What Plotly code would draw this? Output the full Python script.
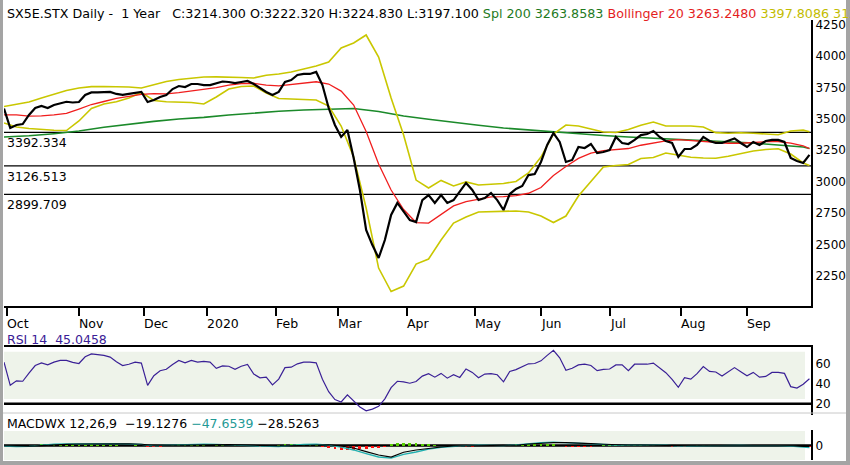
import pandas as pd
import plotly.graph_objects as go

# ---------------- data ----------------
HOLIDAYS = ["2019-12-25", "2019-12-26", "2020-01-01"]
trading_days = pd.bdate_range("2019-09-30", "2020-09-29", freq="C", holidays=HOLIDAYS)

# close, every second session
close = [3582, 3427, 3451, 3459, 3531, 3586, 3602, 3586, 3610, 3626,
         3636, 3630, 3634, 3690, 3710, 3710, 3714, 3714, 3698, 3690,
         3698, 3706, 3714, 3634, 3650, 3674, 3690, 3737, 3761, 3753,
         3777, 3777, 3769, 3769, 3785, 3797, 3793, 3785, 3793, 3801,
         3777, 3745, 3714, 3690, 3714, 3793, 3809, 3849, 3857, 3857,
         3873, 3769, 3586, 3451, 3356, 3411, 3189, 2934, 2616, 2496,
         2393, 2536, 2735, 2831, 2759, 2695, 2679, 2854, 2894, 2831,
         2894, 2831, 2854, 2918, 2990, 2934, 2854, 2870, 2910, 2854,
         2775, 2902, 2942, 2966, 3053, 3061, 3157, 3292, 3387, 3316,
         3157, 3173, 3276, 3268, 3300, 3228, 3236, 3252, 3356, 3308,
         3300, 3332, 3371, 3379, 3403, 3356, 3324, 3308, 3197, 3260,
         3260, 3292, 3356, 3324, 3308, 3308, 3324, 3344, 3308, 3276,
         3316, 3292, 3324, 3332, 3332, 3316, 3189, 3165, 3149, 3214]

rsi14 = [61.7, 38.4, 42.9, 42.5, 50.7, 58.3, 61.0, 59.0, 61.7, 63.4,
         63.4, 61.4, 60.3, 67.1, 69.9, 69.2, 68.5, 66.8, 62.0, 58.3,
         59.6, 61.7, 60.7, 38.4, 48.0, 53.1, 54.5, 59.3, 63.4, 61.0,
         63.4, 61.7, 62.4, 61.7, 55.5, 57.9, 57.6, 54.5, 57.6, 59.3,
         49.7, 46.0, 46.6, 38.8, 44.6, 56.2, 56.6, 60.0, 61.7, 61.7,
         61.0, 44.6, 32.0, 24.1, 21.7, 28.9, 22.4, 16.6, 12.8, 14.5,
         17.3, 24.8, 36.1, 42.5, 41.9, 40.5, 42.2, 47.7, 50.1, 46.6,
         50.4, 45.6, 49.0, 46.3, 54.8, 51.4, 46.0, 49.7, 50.1, 49.0,
         41.9, 52.4, 54.2, 56.9, 60.0, 60.3, 63.0, 68.5, 73.6, 66.1,
         53.5, 55.5, 58.9, 59.6, 58.3, 53.1, 54.5, 54.8, 58.9, 58.9,
         53.1, 59.6, 59.6, 59.6, 60.7, 55.5, 51.1, 44.3, 36.4, 46.0,
         44.6, 50.1, 57.2, 52.4, 51.8, 47.7, 51.8, 56.2, 52.1, 48.0,
         51.4, 46.6, 47.3, 51.4, 51.4, 50.4, 37.1, 35.7, 39.5, 45.05]

macd_hist = [-30, -40, -35, -25, -15,
             20, 30, 35, 30, 25, 30, 35, 25, 20, 30, 25, 20, 15, 10,
             -10, -15, 10,
             -20, -40, -45, -35, -20,
             20, 30, 30, 25, 20,
             10, -10, 15, 10, -10, 10, 15, -10, -15,
             -25, -35, -30,
             20, 30, 35, 30, 25, 20, 15,
             -30, -60, -90, -105, -110, -100, -95, -80, -70, -60, -40,
             40, 60, 70, 65, 55, 45, 30, 20,
             -20, -30, -35, -35, -30, -25, -20, -15, -10, -15, -20,
             20, 30, 40, 45, 50, 55, 45, 35,
             -20, -35, -45, -40, -35, -25, -20,
             15, 20, 25, 20, 15, 20, 15, 10, 15, 10,
             -15, -25, -30, -25, -15,
             15, 20, 15, -10, 10, -10, 10, 15,
             -10, 10, -10, 10, -10, 10, -10,
             -20, -30, -35, -28.5]

# every fourth session
boll_upper = [3598, 3614, 3634, 3666, 3698, 3725, 3745, 3756, 3757, 3756,
              3753, 3745, 3773, 3797, 3813, 3825, 3833, 3834, 3833, 3829,
              3825, 3847, 3857, 3873, 3897, 3920, 3952, 4064, 4103, 4167,
              3992, 3666, 3371, 3013, 2950, 3010, 2966, 2998, 2974, 2982,
              2986, 3002, 3069, 3196, 3379, 3451, 3443, 3419, 3395, 3391,
              3415, 3449, 3475, 3443, 3443, 3443, 3435, 3390, 3385, 3389,
              3386, 3379, 3374, 3403, 3410, 3397.8]
boll_mid = [3531, 3531, 3521, 3523, 3532, 3544, 3578, 3614, 3638, 3662,
            3679, 3695, 3700, 3698, 3708, 3722, 3733, 3749, 3769, 3780,
            3783, 3769, 3763, 3773, 3785, 3795, 3777, 3721, 3610, 3399,
            3141, 2934, 2779, 2675, 2671, 2739, 2807, 2841, 2860, 2880,
            2881, 2890, 2908, 2954, 3049, 3121, 3185, 3228, 3247, 3254,
            3264, 3290, 3308, 3324, 3334, 3327, 3321, 3312, 3306, 3306,
            3314, 3318, 3318, 3307, 3286, 3263.2]
boll_lower = [3467, 3435, 3423, 3415, 3409, 3407, 3483, 3582, 3618, 3636,
              3666, 3710, 3646, 3636, 3636, 3630, 3618, 3674, 3737, 3757,
              3761, 3706, 3662, 3656, 3654, 3650, 3602, 3443, 3196, 2791,
              2313, 2126, 2170, 2345, 2385, 2536, 2671, 2719, 2759, 2761,
              2763, 2767, 2759, 2727, 2675, 2727, 2886, 3006, 3117, 3129,
              3137, 3184, 3192, 3228, 3212, 3195, 3188, 3187, 3203, 3224,
              3244, 3256, 3262, 3220, 3149, 3129]
macd_line = [-10, -25, -20, 10, 35, 40, 45, 55, 55, 50,
             40, 30, 0, 10, 25, 30, 35, 30, 20, 15,
             10, -15, -25, 5, 30, 35, 10, -40, -110, -200,
             -285, -315, -220, -160, -90, -45, -15, 0, 10, 5,
             0, 20, 55, 75, 85, 70, 60, 40, 20, 15,
             10, 15, 20, 10, -15, -10, 0, 5, 10, 5,
             0, 5, 0, -15, -45, -47.65]
macd_signal = [-5, -10, -15, 0, 20, 30, 40, 45, 50, 50,
               45, 35, 10, 10, 15, 25, 30, 30, 25, 18,
               15, 0, -10, 0, 15, 25, 20, -10, -60, -150,
               -235, -288, -165, -110, -65, -35, -10, -5, -10, 0,
               5, 10, 40, 60, 75, 75, 70, 50, 35, 20,
               15, 15, 15, 10, 0, -5, -5, 0, 5, 5,
               5, 3, 0, -5, -20, -19.13]

# every eighth session
sma200 = [3356, 3365, 3382, 3403, 3433, 3459, 3480, 3499, 3512, 3531,
          3547, 3560, 3570, 3578, 3582, 3558, 3523, 3497, 3471, 3449,
          3427, 3411, 3399, 3385, 3368, 3356, 3345, 3335, 3327, 3317,
          3308, 3292, 3276, 3263.9]

levels = [3392.334, 3126.513, 2899.709]
level_labels = ["3392.334", "3126.513", "2899.709"]
month_dates = ["2019-10-01", "2019-11-01", "2019-12-02", "2020-01-02", "2020-02-03", "2020-03-02",
               "2020-04-01", "2020-05-01", "2020-06-01", "2020-07-01", "2020-08-03", "2020-09-01"]
month_labels = ["Oct", "Nov", "Dec", "2020", "Feb", "Mar", "Apr", "May", "Jun", "Jul", "Aug", "Sep"]
price_ticks = [2250, 2500, 2750, 3000, 3250, 3500, 3750, 4000, 4250]
rsi_ticks = [20, 40, 60]

d2 = list(trading_days[::2])
d4 = list(trading_days[::4]) + [trading_days[-1]]
d8 = list(trading_days[::8]) + [trading_days[-1]]

# ---------------- layout helpers ----------------
FONT = "DejaVu Sans"
W, H = 850, 465
ML, MR, MT, MB = 4, 39, 20, 5
PW = W - ML - MR
PH = H - MT - MB


def px_x(px):
    return (px - ML) / PW


def px_y(py):
    return (H - MB - py) / PH


YELLOW = "#C9C700"
RED = "#F01E1E"
GREEN = "#1B8A2A"
PURPLE = "#3A2096"
TEAL = "#22B0B0"
FILL = "#EEF3EA"

fig = go.Figure()
fig.add_trace(go.Scatter(x=d8, y=sma200, mode="lines", line=dict(color=GREEN, width=1.6),
                         xaxis="x", yaxis="y"))
fig.add_trace(go.Scatter(x=d4, y=boll_upper, mode="lines", line=dict(color=YELLOW, width=1.6),
                         xaxis="x", yaxis="y"))
fig.add_trace(go.Scatter(x=d4, y=boll_lower, mode="lines", line=dict(color=YELLOW, width=1.6),
                         xaxis="x", yaxis="y"))
fig.add_trace(go.Scatter(x=d4, y=boll_mid, mode="lines", line=dict(color=RED, width=1.3),
                         xaxis="x", yaxis="y"))
fig.add_trace(go.Scatter(x=d2, y=close, mode="lines", line=dict(color="black", width=2.2),
                         xaxis="x", yaxis="y"))
fig.add_trace(go.Scatter(x=d2, y=rsi14, mode="lines", line=dict(color=PURPLE, width=1.2),
                         xaxis="x2", yaxis="y2"))
fig.add_trace(go.Bar(x=d2, y=macd_hist, width=0.9 * 86400000,
                     marker=dict(color=["#FF1010" if v < 0 else "#55CC00" for v in macd_hist],
                                 line=dict(width=0)),
                     xaxis="x3", yaxis="y3"))
fig.add_trace(go.Scatter(x=d4, y=macd_line, mode="lines", line=dict(color=TEAL, width=1.3),
                         xaxis="x3", yaxis="y3"))
fig.add_trace(go.Scatter(x=d4, y=macd_signal, mode="lines", line=dict(color="black", width=1.1),
                         xaxis="x3", yaxis="y3"))

xrange = [trading_days[0], trading_days[-1] + pd.Timedelta(hours=12)]
rb = [dict(bounds=["sat", "mon"]), dict(values=HOLIDAYS)]
tickfont = dict(family=FONT, size=12, color="black")

shapes = []
# panel fills
shapes.append(dict(type="rect", xref="paper", yref="y2", x0=0, x1=px_x(805), y0=24.7, y1=72.1,
                   fillcolor=FILL, line=dict(width=0), layer="below"))
shapes.append(dict(type="rect", xref="paper", yref="y3", x0=0, x1=px_x(805), y0=-360, y1=367,
                   fillcolor=FILL, line=dict(width=0), layer="below"))
# horizontal levels on price
for lv in levels:
    shapes.append(dict(type="line", xref="paper", yref="y", x0=0, x1=1, y0=lv, y1=lv,
                       line=dict(color="black", width=1.2), layer="below"))
# RSI 20 line
shapes.append(dict(type="line", xref="paper", yref="y2", x0=0, x1=1, y0=20, y1=20,
                   line=dict(color="black", width=2.5), layer="below"))
# MACD zero line
shapes.append(dict(type="line", xref="paper", yref="y3", x0=0, x1=1, y0=0, y1=0,
                   line=dict(color="black", width=2.5), layer="below"))
# thin separator
shapes.append(dict(type="line", xref="paper", yref="paper", x0=px_x(0), x1=px_x(846),
                   y0=px_y(413), y1=px_y(413), line=dict(color="#C8C8C8", width=1)))
# outer gray frame strips
frame = "#A4A4A4"
shapes.append(dict(type="rect", xref="paper", yref="paper", x0=px_x(0), x1=px_x(3),
                   y0=px_y(465), y1=px_y(0), fillcolor=frame, line=dict(width=0)))
shapes.append(dict(type="rect", xref="paper", yref="paper", x0=px_x(846), x1=px_x(850),
                   y0=px_y(465), y1=px_y(0), fillcolor=frame, line=dict(width=0)))
shapes.append(dict(type="rect", xref="paper", yref="paper", x0=px_x(0), x1=px_x(850),
                   y0=px_y(465), y1=px_y(461), fillcolor=frame, line=dict(width=0)))

annotations = []
title = ("SX5E.STX Daily -\u00a0\u00a01 Year\u00a0\u00a0\u00a0C:3214.300 O:3222.320 H:3224.830 L:3197.100 "
         "<span style='color:#1E7A1E'>Spl 200 3263.8583</span> "
         "<span style='color:#E41E1E'>Bollinger 20 3263.2480</span> "
         "<span style='color:#C2BC00'>3397.8086 3128.6874</span>")
annotations.append(dict(text=title, xref="paper", yref="paper", x=px_x(5), y=px_y(13),
                        xanchor="left", yanchor="middle", showarrow=False,
                        font=dict(family=FONT, size=12.7, color="black")))
for lv, lab in zip(levels, level_labels):
    annotations.append(dict(text=lab, xref="paper", yref="y", x=px_x(5), y=lv, xanchor="left",
                            yanchor="top", yshift=-1, showarrow=False,
                            font=dict(family=FONT, size=12.5, color="black")))
for d, lab in zip(month_dates, month_labels):
    annotations.append(dict(text=lab, xref="x", yref="paper", x=d, y=px_y(323), xanchor="left",
                            yanchor="middle", xshift=-2, showarrow=False,
                            font=dict(family=FONT, size=12.5, color="black")))
annotations.append(dict(text="RSI 14\u00a0\u00a045.0458", xref="paper", yref="paper", x=px_x(5),
                        y=px_y(339.5), xanchor="left", yanchor="middle", showarrow=False,
                        font=dict(family=FONT, size=12.5, color=PURPLE)))
annotations.append(dict(text="MACDWX 12,26,9\u00a0\u00a0\u221219.1276 <span style='color:#1F9A96'>\u221247.6539</span> \u221228.5263",
                        xref="paper", yref="paper", x=px_x(5), y=px_y(423.3), xanchor="left",
                        yanchor="middle", showarrow=False,
                        font=dict(family=FONT, size=12.5, color="black")))

fig.update_layout(
    width=W, height=H, margin=dict(l=ML, r=MR, t=MT, b=MB),
    paper_bgcolor="white", plot_bgcolor="white", showlegend=False, hovermode=False,
    bargap=0,
    xaxis=dict(domain=[0, 1], anchor="y", range=xrange, rangebreaks=rb, showgrid=False,
               zeroline=False, showline=True, linecolor="black", linewidth=2,
               ticks="outside", ticklen=8, tickwidth=2, tickcolor="black",
               tickvals=month_dates, showticklabels=False, automargin=False),
    xaxis2=dict(domain=[0, 1], anchor="y2", matches="x", rangebreaks=rb, side="top",
                showgrid=False, zeroline=False, showline=True, linecolor="black", linewidth=2,
                ticks="", showticklabels=False, automargin=False),
    xaxis3=dict(domain=[0, 1], anchor="y3", matches="x", rangebreaks=rb, showgrid=False,
                zeroline=False, showline=False, ticks="", showticklabels=False, automargin=False),
    yaxis=dict(domain=[px_y(306), px_y(20)], anchor="x", range=[2011.2, 4286.3], side="right",
               showgrid=False, zeroline=False, showline=True, linecolor="black", linewidth=2,
               ticks="", tickvals=price_ticks, tickfont=tickfont, automargin=False),
    yaxis2=dict(domain=[px_y(415), px_y(347.3)], anchor="x2", range=[8.6, 76.6], side="right",
                showgrid=False, zeroline=False, showline=True, linecolor="black", linewidth=2,
                ticks="", tickvals=rsi_ticks, tickfont=tickfont, automargin=False),
    yaxis3=dict(domain=[0, px_y(430)], anchor="x3", range=[-360, 390], side="right",
                showgrid=False, zeroline=False, showline=True, linecolor="black", linewidth=2,
                ticks="", tickvals=[0], tickfont=tickfont, automargin=False),
    shapes=shapes, annotations=annotations,
)

fig.write_html("out.html", config={"displayModeBar": False, "staticPlot": True},
               post_script="document.body.style.margin='0';document.body.style.overflow='hidden';")
